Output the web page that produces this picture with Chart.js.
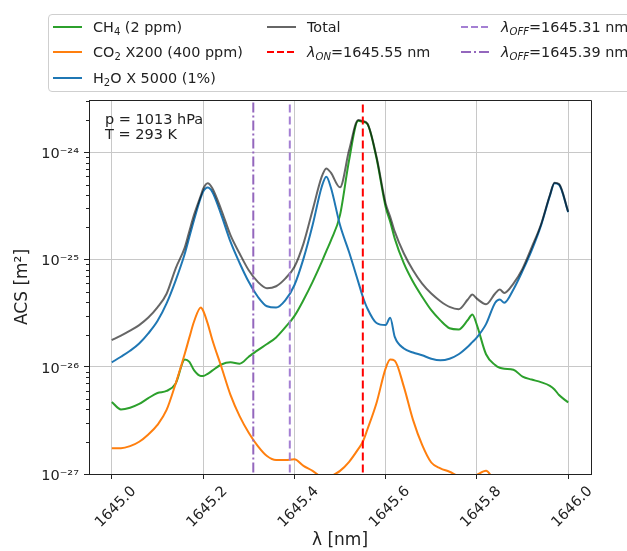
<!DOCTYPE html>
<html>
<head>
<meta charset="utf-8">
<script src="https://cdn.jsdelivr.net/npm/chart.js@4.4.1/dist/chart.umd.min.js"></script>
<style>
  html, body { margin: 0; padding: 0; background: #fff; overflow: hidden; }
  #wrap { position: relative; width: 627px; height: 551px; }
  #legend {
    position: absolute; left: 48px; top: 14px; width: 640px; height: 78px;
    border: 1px solid #cfcfcf; border-radius: 4px; box-sizing: border-box;
    font: 14.4px "DejaVu Sans", sans-serif; color: #222;
  }
  .item { position: absolute; display: flex; align-items: center; height: 20px; white-space: nowrap; }
  .item svg { margin-right: 11px; }
  sub { font-size: 70%; vertical-align: -0.3em; line-height: 0; }
</style>
</head>
<body>
<div id="wrap">
  <canvas id="chart" width="627" height="551"></canvas>
  <div id="legend"></div>
</div>
<script>
// wavelength grid (nm)
const wavelength = [
  1645.00, 1645.02, 1645.04, 1645.06, 1645.08, 1645.10, 1645.12, 1645.14,
  1645.16, 1645.17, 1645.18, 1645.195, 1645.20, 1645.21, 1645.22,
  1645.24, 1645.26, 1645.28, 1645.30, 1645.32, 1645.34, 1645.36, 1645.38, 1645.40, 1645.42, 1645.44,
  1645.46, 1645.47, 1645.48,
  1645.50, 1645.52, 1645.54, 1645.55, 1645.56, 1645.58, 1645.60, 1645.61, 1645.62,
  1645.64, 1645.66, 1645.68, 1645.70, 1645.72, 1645.74, 1645.76, 1645.78, 1645.79, 1645.80,
  1645.82, 1645.84, 1645.85, 1645.86, 1645.88, 1645.90, 1645.92, 1645.94, 1645.96, 1645.97, 1645.98, 1646.00
];

// absorption cross sections (m^2)
const ch4 = [
  4.7e-27, 4.0e-27, 4.15e-27, 4.5e-27, 5.1e-27, 5.7e-27, 5.95e-27, 7.0e-27,
  1.17e-26, 1.11e-26, 9.3e-27, 8.2e-27, 8.2e-27, 8.6e-27, 9.2e-27,
  1.05e-26, 1.10e-26, 1.07e-26, 1.24e-26, 1.43e-26, 1.63e-26, 1.88e-26, 2.33e-26, 2.97e-26, 4.2e-26, 6.2e-26,
  9.5e-26, 1.2e-25, 1.5e-25,
  2.6e-25, 8.5e-25, 1.97e-24, 1.93e-24, 1.84e-24, 8.8e-25, 3.1e-25, 2.26e-25, 1.57e-25,
  9.2e-26, 6.2e-26, 4.5e-26, 3.37e-26, 2.71e-26, 2.29e-26, 2.23e-26, 2.73e-26, 3.08e-26, 2.45e-26,
  1.31e-26, 1.04e-26, 9.8e-27, 9.6e-27, 9.4e-27, 8.1e-27, 7.6e-27, 7.2e-27, 6.65e-27, 6.15e-27, 5.45e-27, 4.65e-27
];
const co2 = [
  1.74e-27, 1.74e-27, 1.82e-27, 2.0e-27, 2.34e-27, 2.87e-27, 3.96e-27, 7.0e-27,
  1.33e-26, 1.88e-26, 2.63e-26, 3.58e-26, 3.35e-26, 2.54e-26, 1.8e-26,
  1.0e-26, 5.47e-27, 3.47e-27, 2.43e-27, 1.82e-27, 1.47e-27, 1.35e-27, 1.35e-27, 1.37e-27, 1.19e-27, 1.07e-27,
  9.3e-28, 9.0e-28, 9.5e-28,
  1.07e-27, 1.30e-27, 1.71e-27, 2.0e-27, 2.6e-27, 4.6e-27, 9.65e-27, 1.17e-26, 1.14e-26,
  6.5e-27, 3.2e-27, 1.87e-27, 1.28e-27, 1.13e-27, 1.05e-27, 9.5e-28, 9.0e-28, 9.3e-28, 9.8e-28,
  1.07e-27, 8.5e-28, 8.0e-28, 8.0e-28, 8.0e-28, 8.0e-28, 8.0e-28, 8.0e-28, 8.0e-28, 8.0e-28, 8.0e-28, 8.0e-28
];
const h2o = [
  1.10e-26, 1.24e-26, 1.41e-26, 1.65e-26, 2.05e-26, 2.67e-26, 3.9e-26, 6.4e-26,
  1.14e-25, 1.63e-25, 2.33e-25, 3.8e-25, 4.3e-25, 4.7e-25, 4.3e-25,
  2.6e-25, 1.47e-25, 9.3e-26, 6.2e-26, 4.5e-26, 3.67e-26, 3.57e-26, 4.17e-26, 5.76e-26, 1.02e-25, 2.1e-25,
  4.78e-25, 5.93e-25, 4.7e-25,
  2.1e-25, 1.17e-25, 6.2e-26, 4.5e-26, 3.5e-26, 2.56e-26, 2.45e-26, 2.86e-26, 1.9e-26,
  1.48e-26, 1.36e-26, 1.28e-26, 1.19e-26, 1.15e-26, 1.19e-26, 1.31e-26, 1.54e-26, 1.70e-26, 1.88e-26,
  2.5e-26, 3.96e-26, 4.25e-26, 3.96e-26, 5.27e-26, 7.84e-26, 1.22e-25, 2.05e-25, 3.95e-25, 5.15e-25, 5.0e-25, 2.77e-25
];
const total = [
  1.77e-26, 1.95e-26, 2.17e-26, 2.45e-26, 2.88e-26, 3.58e-26, 4.8e-26, 8.3e-26,
  1.30e-25, 1.85e-25, 2.6e-25, 3.95e-25, 4.55e-25, 5.15e-25, 4.65e-25,
  2.9e-25, 1.69e-25, 1.14e-25, 7.95e-26, 6.2e-26, 5.4e-26, 5.64e-26, 6.65e-26, 8.54e-26, 1.41e-25, 2.9e-25,
  5.93e-25, 7.09e-25, 6.46e-25,
  4.72e-25, 1.05e-24, 2.0e-24, 1.96e-24, 1.86e-24, 9.1e-25, 3.34e-25, 2.51e-25, 1.82e-25,
  1.14e-25, 7.95e-26, 5.97e-26, 4.82e-26, 4.09e-26, 3.62e-26, 3.44e-26, 4.24e-26, 4.72e-26, 4.32e-26,
  3.83e-26, 4.82e-26, 5.25e-26, 4.89e-26, 5.97e-26, 8.24e-26, 1.3e-25, 2.1e-25, 4.0e-25, 5.21e-25, 5.06e-25, 2.79e-25
];

const lambdaOn = 1645.55;
const lambdaOff = [1645.31, 1645.39];

const xTicks = [1645.0, 1645.2, 1645.4, 1645.6, 1645.8, 1646.0];
const xTickLabels = ['1645.0', '1645.2', '1645.4', '1645.6', '1645.8', '1646.0'];
const yTicks = [1e-27, 1e-26, 1e-25, 1e-24];
const yTickLabels = ['10⁻²⁷', '10⁻²⁶', '10⁻²⁵', '10⁻²⁴'];

const legendItems = [
  { html: 'CH<sub>4</sub> (2 ppm)', color: '#2ca02c', dash: '', col: 0, row: 0 },
  { html: 'CO<sub>2</sub> X200 (400 ppm)', color: '#ff7f0e', dash: '', col: 0, row: 1 },
  { html: 'H<sub>2</sub>O X 5000 (1%)', color: '#1f77b4', dash: '', col: 0, row: 2 },
  { html: 'Total', color: '#666666', dash: '', col: 1, row: 0 },
  { html: '<i>λ</i><sub><i>ON</i></sub>=1645.55 nm', color: '#ff0000', dash: '7,3', col: 1, row: 1 },
  { html: '<i>λ</i><sub><i>OFF</i></sub>=1645.31 nm', color: '#a47fd3', dash: '7,3', col: 2, row: 0 },
  { html: '<i>λ</i><sub><i>OFF</i></sub>=1645.39 nm', color: '#9467bd', dash: '10,3,2,3', col: 2, row: 1 }
];

const colX = [4, 218, 412];
const rowY = [1.5, 27, 53];
const legendEl = document.getElementById('legend');
legendItems.forEach(it => {
  const d = document.createElement('div');
  d.className = 'item';
  d.style.left = colX[it.col] + 'px';
  d.style.top = rowY[it.row] + 'px';
  d.innerHTML = '<svg width="29" height="4"><line x1="0" y1="2" x2="29" y2="2" stroke="' + it.color +
    '" stroke-width="2"' + (it.dash ? ' stroke-dasharray="' + it.dash + '"' : '') + '/></svg><span>' + it.html + '</span>';
  legendEl.appendChild(d);
});

const pts = ys => wavelength.map((x, i) => ({ x: x, y: ys[i] }));
const vline = x => [{ x: x, y: 1e-29 }, { x: x, y: 1e-22 }];

// frame, minor y ticks and the p/T note
const decorations = {
  id: 'decorations',
  afterDraw(chart) {
    const { ctx, chartArea: a, scales: { y } } = chart;
    ctx.save();
    ctx.strokeStyle = '#222';
    ctx.lineWidth = 1;
    ctx.beginPath();
    ctx.moveTo(a.left, a.top + 0.5);
    ctx.lineTo(a.right + 0.5, a.top + 0.5);
    ctx.lineTo(a.right + 0.5, a.bottom);
    ctx.stroke();
    ctx.beginPath();
    for (let n = -27; n <= -24; n++) {
      for (let k = 2; k <= 9; k++) {
        const v = k * Math.pow(10, n);
        if (v > y.max) continue;
        const py = Math.round(y.getPixelForValue(v)) + 0.5;
        ctx.moveTo(a.left - 3, py);
        ctx.lineTo(a.left, py);
      }
    }
    ctx.stroke();
    ctx.fillStyle = '#222';
    ctx.font = '14.5px "DejaVu Sans"';
    ctx.textBaseline = 'middle';
    ctx.fillText('p = 1013 hPa', a.left + 16, a.top + 20);
    ctx.fillText('T = 293 K', a.left + 16, a.top + 35);
    ctx.restore();
  }
};

Chart.defaults.font.family = 'DejaVu Sans';
Chart.defaults.color = '#222';

const lineStyle = { pointRadius: 0, borderWidth: 2, fill: false, cubicInterpolationMode: 'monotone', clip: 0 };

new Chart(document.getElementById('chart'), {
  type: 'line',
  data: {
    datasets: [
      Object.assign({ label: 'CH4 (2 ppm)', data: pts(ch4), borderColor: '#2ca02c', order: 5 }, lineStyle),
      Object.assign({ label: 'CO2 X200 (400 ppm)', data: pts(co2), borderColor: '#ff7f0e', order: 4 }, lineStyle),
      Object.assign({ label: 'H2O X 5000 (1%)', data: pts(h2o), borderColor: '#1f77b4', order: 3 }, lineStyle),
      Object.assign({ label: 'Total', data: pts(total), borderColor: 'rgba(0,0,0,0.6)', order: 2 }, lineStyle),
      { label: 'λON', data: vline(lambdaOn), borderColor: '#ff0000', borderWidth: 2, borderDash: [8, 4], pointRadius: 0, clip: 0, order: 1 },
      { label: 'λOFF 1', data: vline(lambdaOff[0]), borderColor: '#9467bd', borderWidth: 2, borderDash: [10, 3, 2, 3], pointRadius: 0, clip: 0, order: 1 },
      { label: 'λOFF 2', data: vline(lambdaOff[1]), borderColor: '#a47fd3', borderWidth: 2, borderDash: [8, 4], pointRadius: 0, clip: 0, order: 1 }
    ]
  },
  options: {
    responsive: false,
    animation: false,
    devicePixelRatio: 1,
    events: [],
    layout: { padding: { top: 100, right: 36, left: 0, bottom: 0 } },
    plugins: { legend: { display: false }, tooltip: { enabled: false } },
    scales: {
      x: {
        type: 'linear',
        min: 1644.95,
        max: 1646.05,
        afterBuildTicks: s => { s.ticks = xTicks.map(v => ({ value: v })); },
        afterFit: s => { s.height = 77; },
        ticks: {
          autoSkip: false,
          maxRotation: 45,
          minRotation: 45,
          labelOffset: 22,
          padding: 4,
          font: { size: 14.5 },
          callback: (v, i) => xTickLabels[i]
        },
        grid: { color: '#c8c8c8', tickColor: '#222', tickLength: 5 },
        border: { color: '#222' },
        title: { display: true, text: 'λ [nm]', font: { size: 17 }, padding: 0 }
      },
      y: {
        type: 'logarithmic',
        min: 1e-27,
        max: 3.08e-24,
        afterBuildTicks: s => { s.ticks = yTicks.map(v => ({ value: v, major: true })); },
        afterFit: s => { s.width = 89; },
        ticks: {
          autoSkip: false,
          padding: 5,
          labelOffset: 2,
          font: { size: 14.5 },
          callback: (v, i) => yTickLabels[i]
        },
        grid: { color: '#c8c8c8', tickColor: '#222', tickLength: 5 },
        border: { color: '#222' },
        title: { display: true, text: 'ACS [m²]', font: { size: 17 }, padding: { top: 12, bottom: 0 } }
      }
    }
  },
  plugins: [decorations]
});
</script>
</body>
</html>
